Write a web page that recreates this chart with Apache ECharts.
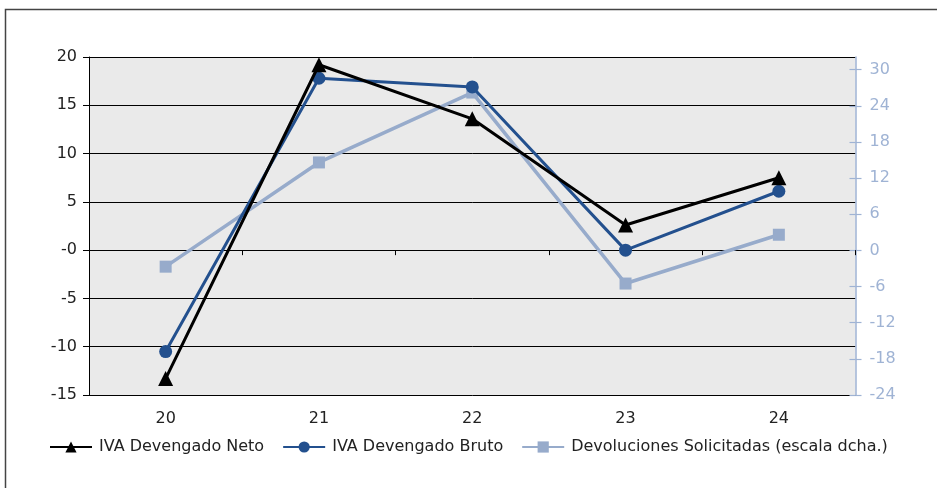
<!DOCTYPE html>
<html>
<head>
<meta charset="utf-8">
<script src="https://cdn.jsdelivr.net/npm/echarts@6/dist/echarts.min.js"></script>
<style>
  html, body { margin: 0; padding: 0; background: #fff; }
  #chart { width: 937px; height: 488px; }
</style>
</head>
<body>
<div id="chart"></div>
<script>
// datos
var categorias = ['20', '21', '22', '23', '24'];
var ivaNeto = [-13.3, 19.2, 13.6, 2.6, 7.5];
var ivaBruto = [-10.5, 17.8, 16.9, 0.0, 6.1];
var devoluciones = [-2.7, 14.6, 26.2, -5.5, 2.6];
var ticksDcha = [-24, -18, -12, -6, 0, 6, 12, 18, 24, 30];

var fuente = 'DejaVu Sans, Arial, sans-serif';
var azulClaro = '#97ABCB';
var ejeDcha = '#9FB3D4';

var myChart = echarts.init(document.getElementById('chart'));

var option = {
  animation: false,
  backgroundColor: '#fff',
  textStyle: { fontFamily: fuente },
  graphic: [{
    type: 'rect',
    shape: { x: 5.5, y: 9.5, width: 1000, height: 1000 },
    style: { fill: 'none', stroke: '#444', lineWidth: 1.5 },
    silent: true
  }],
  grid: {
    left: 89, right: 81.5, top: 57, bottom: 93,
    show: true, backgroundColor: '#EAEAEA', borderWidth: 0
  },
  legend: {
    left: 44, top: 434,
    itemWidth: 42, itemHeight: 14, itemGap: 18,
    textStyle: { fontSize: 16, color: '#222', fontFamily: fuente, padding: [0, 0, 0, 2] },
    data: ['IVA Devengado Neto', 'IVA Devengado Bruto', 'Devoluciones Solicitadas (escala dcha.)']
  },
  xAxis: {
    type: 'category',
    data: categorias,
    boundaryGap: true,
    axisLine: { lineStyle: { color: '#000', width: 1 } },
    axisTick: { show: true, length: 5, lineStyle: { color: '#000' } },
    axisLabel: { fontSize: 16, color: '#222', margin: 16, fontFamily: fuente },
    splitLine: { show: false }
  },
  yAxis: [{
    type: 'value',
    min: -15, max: 20, interval: 5,
    axisLine: { show: true, lineStyle: { color: '#000', width: 1 } },
    axisTick: { show: true, length: 6, lineStyle: { color: '#000' } },
    axisLabel: {
      fontSize: 16, color: '#222', margin: 12, fontFamily: fuente,
      formatter: function (v) { return v === 0 ? '-0' : String(v); }
    },
    splitLine: { show: true, lineStyle: { color: '#000', width: 1 } }
  }, {
    type: 'value',
    position: 'right',
    min: -24, max: 32.1,
    axisLine: { show: true, lineStyle: { color: ejeDcha, width: 1.5 } },
    axisTick: { show: true, length: 6, customValues: ticksDcha, lineStyle: { color: ejeDcha, width: 1.2 } },
    axisLabel: { fontSize: 16, color: ejeDcha, margin: 14, customValues: ticksDcha, fontFamily: fuente },
    splitLine: { show: false }
  }, {
    // marcas interiores del eje derecho
    type: 'value',
    position: 'right',
    min: -24, max: 32.1,
    axisLine: { show: false },
    axisTick: { show: true, inside: true, length: 6, customValues: ticksDcha, lineStyle: { color: ejeDcha, width: 1.2 } },
    axisLabel: { show: false },
    splitLine: { show: false }
  }],
  series: [{
    name: 'IVA Devengado Neto',
    type: 'line',
    data: ivaNeto,
    color: '#000',
    lineStyle: { width: 3, color: '#000' },
    itemStyle: { color: '#000' },
    symbol: 'triangle', symbolSize: 15,
    z: 4
  }, {
    name: 'IVA Devengado Bruto',
    type: 'line',
    data: ivaBruto,
    color: '#23508E',
    lineStyle: { width: 3, color: '#23508E' },
    itemStyle: { color: '#23508E' },
    symbol: 'circle', symbolSize: 13,
    z: 3
  }, {
    name: 'Devoluciones Solicitadas (escala dcha.)',
    type: 'line',
    yAxisIndex: 1,
    data: devoluciones,
    color: azulClaro,
    lineStyle: { width: 3.5, color: azulClaro },
    itemStyle: { color: azulClaro },
    symbol: 'rect', symbolSize: 12,
    z: 2
  }]
};

myChart.setOption(option);
</script>
</body>
</html>
